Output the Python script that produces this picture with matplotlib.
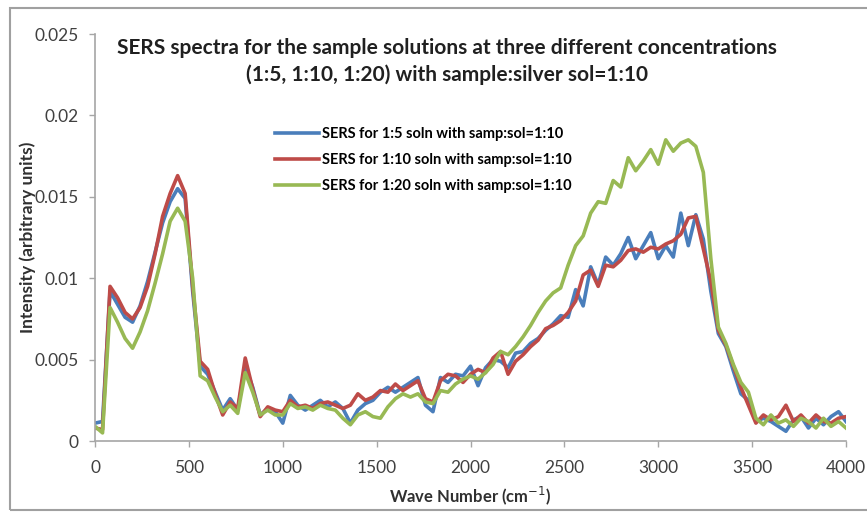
import matplotlib
matplotlib.use('Agg')
import matplotlib.pyplot as plt
from matplotlib.patches import Rectangle

# Wave numbers (cm-1), sampled every 40
wave_number = list(range(0, 4001, 40))

# SERS for 1:5 soln
sers_1_5 = [
    .0011, .0012, .0092, .0084, .0076, .0073, .0083, .0098, .0116, .0134, .0147, .0155, .0149,
    .0092, .0046, .0041, .0030, .0019, .0026, .0019, .0046, .0033, .0016, .0020, .0018, .0011,
    .0028, .0022, .0019, .0022, .0025, .0021, .0024, .0020, .0011, .0019, .0023, .0025, .0030,
    .0033, .0030, .0033, .0036, .0039, .0022, .0018,
    .0039, .0036, .0041, .0040, .0046, .0034, .0045, .0050, .0049, .0045, .0054, .0055, .0060,
    .0063, .0068, .0072, .0077, .0076,
    .0093, .0083, .0107, .0096, .0113, .0108, .0115, .0125, .0112, .0120, .0128, .0112, .0120,
    .0113, .0140, .0120, .0139, .0124,
    .0092, .0066, .0058, .0043, .0029, .0025, .0012, .0014, .0012, .0009, .0006, .0013, .0015,
    .0008, .0014, .0010, .0015, .0018, .0012,
]

# SERS for 1:10 soln
sers_1_10 = [
    .0008, .0007, .0095, .0088, .0079, .0075, .0082, .0095, .0115, .0138, .0152, .0163, .0152,
    .0095, .0049, .0044, .0029, .0016, .0024, .0020, .0051, .0032, .0015, .0021, .0019, .0018,
    .0025, .0021, .0022, .0020, .0023, .0024, .0022, .0020, .0022, .0029, .0025, .0027, .0031,
    .0030, .0035, .0031, .0034, .0037, .0026, .0024,
    .0037, .0041, .0040, .0036, .0041, .0044, .0042, .0051, .0055, .0041, .0049, .0053, .0058,
    .0062, .0069, .0071, .0074, .0079,
    .0086, .0102, .0105, .0095, .0108, .0107, .0111, .0117, .0118, .0116, .0119, .0118, .0121,
    .0123, .0127, .0137, .0138, .0118,
    .0098, .0068, .0059, .0046, .0033, .0022, .0011, .0016, .0013, .0015, .0022, .0012, .0016,
    .0011, .0016, .0012, .0011, .0014, .0015,
]

# SERS for 1:20 soln
sers_1_20 = [
    .0009, .0005, .0082, .0073, .0063, .0057, .0067, .0080, .0097, .0115, .0135, .0143, .0135,
    .0100, .0040, .0037, .0027, .0018, .0022, .0017, .0042, .0030, .0016, .0019, .0016, .0016,
    .0023, .0020, .0021, .0019, .0022, .0020, .0019, .0014, .0010, .0016, .0018, .0015, .0014,
    .0021, .0026, .0029, .0027, .0029, .0024, .0023,
    .0031, .0030, .0035, .0038, .0040, .0038, .0042, .0047, .0055, .0053, .0058, .0064, .0071,
    .0079, .0086, .0091, .0094, .0108,
    .0120, .0126, .0140, .0147, .0146, .0160, .0156, .0174, .0166, .0172, .0179, .0170, .0185,
    .0178, .0183, .0185, .0181, .0165,
    .0112, .0070, .0060, .0047, .0036, .0030, .0014, .0010, .0016, .0011, .0013, .0009, .0014,
    .0012, .0008, .0014, .0009, .0012, .0008,
]

labels = ['SERS for 1:5 soln with samp:sol=1:10',
          'SERS for 1:10 soln with samp:sol=1:10',
          'SERS for 1:20 soln with samp:sol=1:10']
colors = ['#4A7EBB', '#BE4B48', '#98B954']

plt.rcParams['font.family'] = ['Lato', 'DejaVu Sans']

fig = plt.figure(figsize=(8.67, 5.16), dpi=100)
ax = fig.add_axes([0.1096, 0.1453, 0.8662, 0.7888])

for y, lab, c in zip([sers_1_5, sers_1_10, sers_1_20], labels, colors):
    ax.plot(wave_number, y, color=c, lw=2.6, label=lab, solid_joinstyle='round')

ax.set_xlim(0, 4000)
ax.set_ylim(0, 0.025)
ax.set_xticks(range(0, 4001, 500))
ax.set_yticks([0, 0.005, 0.01, 0.015, 0.02, 0.025])
ax.set_yticklabels(['0', '0.005', '0.01', '0.015', '0.02', '0.025'])

for s in ['top', 'right']:
    ax.spines[s].set_visible(False)
for s in ['left', 'bottom']:
    ax.spines[s].set_color('#A6A6A6')
    ax.spines[s].set_linewidth(1.2)
ax.tick_params(colors='#A6A6A6', labelcolor='#404040', labelsize=12.5, length=4, width=1)
ax.tick_params(axis='x', pad=10)
ax.tick_params(axis='y', pad=8)

ax.set_xlabel('Wave Number (cm$^{-1}$)', fontsize=12, fontweight='bold', color='#303030', labelpad=6)
ax.set_ylabel('Intensity (arbitrary units)', fontsize=12.5, fontweight='bold', color='#303030')
ax.yaxis.set_label_coords(-0.078, 0.50)

fig.text(0.516, 0.881, 'SERS spectra for the sample solutions at three different concentrations\n'
         '(1:5, 1:10, 1:20) with sample:silver sol=1:10',
         ha='center', va='center', fontsize=15, fontweight='bold', color='#202020',
         linespacing=1.4)

ax.legend(loc='upper left', bbox_to_anchor=(0.302, 0.780), bbox_transform=fig.transFigure,
          frameon=False, handlelength=3.0, handletextpad=0.2,
          labelspacing=0.85, prop={'weight': 'bold', 'size': 10.5})

fig.patches.append(Rectangle((0.0115, 0.0116), 1.0, 0.973, transform=fig.transFigure,
                             fill=False, edgecolor='#A0A0A0', lw=1.5))

plt.savefig('out.png', dpi=100)
